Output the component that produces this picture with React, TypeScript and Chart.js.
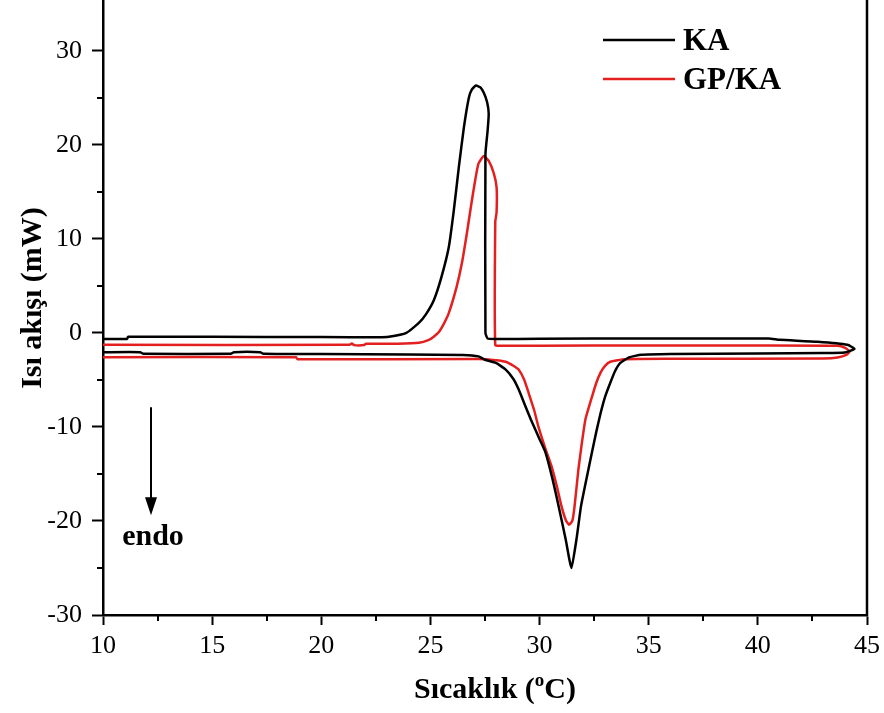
import React, { useEffect, useRef } from 'react';
import { Chart, registerables } from 'chart.js';

Chart.register(...registerables);

// ---- Data ----
const SERIES_LABELS = ['KA', 'GP/KA'];
const SERIES_COLORS = ['#000000', '#e3201f'];

// KA: heating (lower branch, left -> right), turn at ~44.4 °C, cooling (upper branch, right -> left)
const KA_X = [
  10.0, 11.7, 11.85, 15.85, 16.0, 17.2, 17.35, 20.0, 24.0, 26.5, 27.2, 27.5, 28.0, 28.45, 28.8, 29.04, 29.3, 29.6,
  30.0, 30.27, 30.6, 30.87, 31.2, 31.46, 31.7, 31.9, 32.15, 32.4, 32.6, 32.8, 33.0, 33.24, 33.45, 33.7, 34.1,
  34.66, 36.0, 40.0, 43.0, 43.97, 44.43, 44.1, 42.74, 41.0, 40.5, 35.0, 30.0, 28.0, 27.62, 27.52, 27.52, 27.62,
  27.67, 27.6, 27.45, 27.29, 27.09, 26.9, 26.76, 26.53, 26.3, 26.07, 25.84, 25.5, 25.16, 24.8, 24.47, 23.9,
  23.1, 22.6, 20.0, 15.0, 11.15, 11.1, 10.0,
];
const KA_Y = [
  -2.05, -2.05, -2.23, -2.23, -2.05, -2.05, -2.23, -2.25, -2.3, -2.35, -2.5, -2.86, -3.2, -3.9, -4.9, -6.0, -7.5, -9.2,
  -11.3, -12.7, -15.6, -18.4, -22.0, -25.0, -21.8, -18.4, -15.5, -12.7, -10.5, -8.5, -6.8, -5.3, -4.1, -3.2, -2.6,
  -2.33, -2.25, -2.2, -2.15, -2.09, -1.7, -1.27, -0.95, -0.74, -0.6, -0.6, -0.62, -0.65, -0.6, 0.0, 19.0, 21.5,
  23.3, 24.5, 25.5, 26.1, 26.3, 25.9, 25.0, 21.8, 17.6, 13.0, 9.1, 5.9, 3.5, 2.0, 1.06, 0.0,
  -0.42, -0.47, -0.45, -0.42, -0.42, -0.65, -0.65,
];

// GP/KA: same loop structure
const GPKA_X = [
  10.0, 18.85, 18.9, 27.2, 28.0, 28.45, 28.8, 29.04, 29.3, 29.5, 29.75, 29.95, 30.25, 30.55, 30.8, 31.0, 31.2,
  31.35, 31.5, 31.6, 31.78, 31.95, 32.1, 32.4, 32.6, 32.8, 33.0, 33.24, 33.9, 36.0, 43.0, 43.65, 44.05, 44.2,
  44.0, 43.65, 40.0, 35.0, 30.0, 28.2, 27.97, 27.97, 28.03, 28.03, 27.9, 27.67, 27.44, 27.2, 27.07, 26.9, 26.67,
  26.44, 26.2, 25.84, 25.6, 25.39, 25.15, 24.93, 24.47, 23.5, 22.05, 21.95, 21.5, 21.4, 21.3, 10.0,
];
const GPKA_Y = [
  -2.58, -2.58, -2.79, -2.78, -2.9, -3.07, -3.5, -3.9, -5.0, -6.4, -8.2, -10.0, -12.2, -14.2, -16.4, -18.4, -19.9,
  -20.4, -20.0, -18.5, -14.5, -11.5, -9.2, -6.8, -5.3, -4.2, -3.5, -3.07, -2.8, -2.76, -2.72, -2.62, -2.35, -1.98,
  -1.6, -1.38, -1.35, -1.35, -1.36, -1.38, -1.3, 11.8, 12.8, 15.5, 17.0, 18.3, 18.8, 18.0, 16.5, 14.1, 10.6,
  7.4, 4.9, 2.1, 0.9, 0.1, -0.4, -0.74, -1.06, -1.15, -1.15, -1.3, -1.3, -1.12, -1.27, -1.27,
];

const X_MIN = 10;
const X_MAX = 45;
const Y_MIN = -30;
const Y_MAX = 35.4;
const X_TICKS = [10, 15, 20, 25, 30, 35, 40, 45];
const Y_TICKS = [-30, -20, -10, 0, 10, 20, 30];
const X_MINOR = [12.5, 17.5, 22.5, 27.5, 32.5, 37.5, 42.5];
const Y_MINOR = [-25, -15, -5, 5, 15, 25];

const X_TITLE_MAIN = 'Sıcaklık (';
const X_TITLE_SUP = 'o';
const X_TITLE_END = 'C)';
const Y_TITLE = 'Isı akışı (mW)';
const ENDO_LABEL = 'endo';
const ARROW_X = 12.2;
const ARROW_Y_START = -7.9;
const ARROW_Y_END = -19.4;
const ENDO_Y = -22.6;

const SERIF = "'Liberation Serif', 'Times New Roman', serif";

const overlayPlugin = {
  id: 'overlay',
  afterDraw(chart: any) {
    const { ctx, chartArea: a, scales } = chart;
    const x = scales.x;
    const y = scales.y;
    ctx.save();
    ctx.strokeStyle = '#000';
    ctx.fillStyle = '#000';

    const line = (x1: number, y1: number, x2: number, y2: number) => {
      ctx.beginPath();
      ctx.moveTo(x1, y1);
      ctx.lineTo(x2, y2);
      ctx.stroke();
    };

    // minor ticks
    ctx.lineWidth = 2;
    X_MINOR.forEach((v) => {
      const px = Math.round(x.getPixelForValue(v));
      line(px, a.bottom, px, a.bottom + 6);
    });
    Y_MINOR.forEach((v) => {
      const py = Math.round(y.getPixelForValue(v));
      line(a.left - 6, py, a.left, py);
    });

    // right border
    ctx.lineWidth = 2.5;
    line(a.right, a.top, a.right, a.bottom + 1);

    // legend
    const lx0 = a.right - 264;
    const lx1 = a.right - 192;
    const tx = a.right - 184;
    ctx.font = `bold 31px ${SERIF}`;
    ctx.textAlign = 'left';
    ctx.textBaseline = 'alphabetic';
    const rows = [40, 79];
    SERIES_LABELS.forEach((lab, i) => {
      ctx.strokeStyle = SERIES_COLORS[i];
      ctx.lineWidth = 2.5;
      line(lx0, rows[i], lx1, rows[i]);
      ctx.fillStyle = '#000';
      ctx.fillText(lab, tx, rows[i] + 10);
    });

    // endo arrow
    ctx.strokeStyle = '#000';
    ctx.fillStyle = '#000';
    const ax = Math.round(x.getPixelForValue(ARROW_X));
    const ay0 = y.getPixelForValue(ARROW_Y_START);
    const ay1 = y.getPixelForValue(ARROW_Y_END);
    ctx.lineWidth = 2;
    line(ax, ay0, ax, ay1 - 12);
    ctx.beginPath();
    ctx.moveTo(ax - 6, ay1 - 18);
    ctx.lineTo(ax + 6, ay1 - 18);
    ctx.lineTo(ax, ay1);
    ctx.closePath();
    ctx.fill();
    ctx.font = `bold 30px ${SERIF}`;
    ctx.textAlign = 'center';
    ctx.fillText(ENDO_LABEL, ax + 2, y.getPixelForValue(ENDO_Y));

    // x title with superscript
    ctx.textAlign = 'left';
    ctx.textBaseline = 'alphabetic';
    const mainFont = `bold 30px ${SERIF}`;
    const supFont = `bold 19px ${SERIF}`;
    ctx.font = mainFont;
    const w1 = ctx.measureText(X_TITLE_MAIN).width;
    const w3 = ctx.measureText(X_TITLE_END).width;
    ctx.font = supFont;
    const w2 = ctx.measureText(X_TITLE_SUP).width;
    const total = w1 + w2 + w3;
    const cx = (a.left + a.right) / 2 + 10;
    let sx = cx - total / 2;
    const by = 698;
    ctx.font = mainFont;
    ctx.fillText(X_TITLE_MAIN, sx, by);
    sx += w1;
    ctx.font = supFont;
    ctx.fillText(X_TITLE_SUP, sx, by - 12);
    sx += w2;
    ctx.font = mainFont;
    ctx.fillText(X_TITLE_END, sx, by);

    // y title
    ctx.save();
    ctx.translate(33, 298);
    ctx.rotate(-Math.PI / 2);
    ctx.font = `bold 30px ${SERIF}`;
    ctx.textAlign = 'center';
    ctx.textBaseline = 'middle';
    ctx.fillText(Y_TITLE, 0, 0);
    ctx.restore();

    ctx.restore();
  },
};

export default function App() {
  const canvasRef = useRef<HTMLCanvasElement | null>(null);

  useEffect(() => {
    const canvas = canvasRef.current;
    if (!canvas) return;
    const toPts = (xs: number[], ys: number[]) => xs.map((v, i) => ({ x: v, y: ys[i] }));
    const chart = new Chart(canvas, {
      type: 'scatter',
      data: {
        datasets: [
          {
            label: SERIES_LABELS[0],
            data: toPts(KA_X, KA_Y),
            showLine: true,
            borderColor: SERIES_COLORS[0],
            backgroundColor: SERIES_COLORS[0],
            borderWidth: 2.5,
            pointRadius: 0,
            tension: 0.15,
          },
          {
            label: SERIES_LABELS[1],
            data: toPts(GPKA_X, GPKA_Y),
            showLine: true,
            borderColor: SERIES_COLORS[1],
            backgroundColor: SERIES_COLORS[1],
            borderWidth: 2.5,
            pointRadius: 0,
            tension: 0.15,
          },
        ],
      },
      options: {
        responsive: false,
        animation: false,
        devicePixelRatio: 1,
        layout: { padding: { top: 0, right: 17, left: 0, bottom: 0 } },
        plugins: {
          legend: { display: false },
          tooltip: { enabled: false },
        },
        scales: {
          x: {
            type: 'linear',
            min: X_MIN,
            max: X_MAX,
            afterBuildTicks: (scale: any) => {
              scale.ticks = X_TICKS.map((v) => ({ value: v }));
            },
            afterFit: (scale: any) => {
              scale.height = 98;
              scale.paddingLeft = 0;
              scale.paddingRight = 0;
            },
            grid: {
              drawOnChartArea: false,
              drawTicks: true,
              tickLength: 10,
              tickWidth: 2,
              tickColor: '#000',
            },
            border: { display: true, color: '#000', width: 2.5 },
            ticks: {
              color: '#000',
              padding: 6,
              maxRotation: 0,
              font: { family: SERIF, size: 26 },
            },
          },
          y: {
            type: 'linear',
            min: Y_MIN,
            max: Y_MAX,
            afterBuildTicks: (scale: any) => {
              scale.ticks = Y_TICKS.map((v) => ({ value: v }));
            },
            afterFit: (scale: any) => {
              scale.width = 103;
              scale.paddingTop = 0;
              scale.paddingBottom = 0;
            },
            grid: {
              drawOnChartArea: false,
              drawTicks: true,
              tickLength: 11,
              tickWidth: 2,
              tickColor: '#000',
            },
            border: { display: true, color: '#000', width: 2.5 },
            ticks: {
              color: '#000',
              padding: 10,
              font: { family: SERIF, size: 26 },
            },
          },
        },
      },
      plugins: [overlayPlugin],
    });
    return () => chart.destroy();
  }, []);

  return (
    <div style={{ position: 'fixed', left: 0, top: 0, width: 884, height: 713, background: '#fff' }}>
      <canvas ref={canvasRef} width={884} height={713} style={{ width: 884, height: 713, display: 'block' }} />
    </div>
  );
}
